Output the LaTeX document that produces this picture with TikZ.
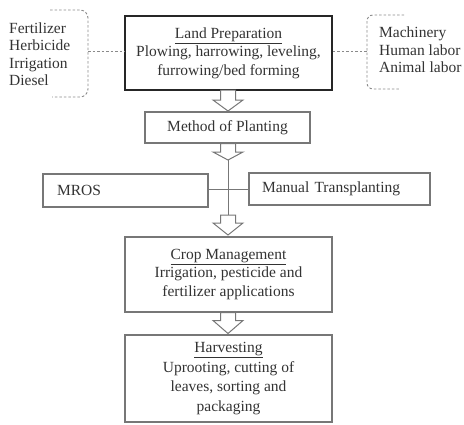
\documentclass[tikz,border=0pt]{standalone}
\usepackage{fontspec}
\setmainfont{Liberation Serif}
\usetikzlibrary{calc}
\definecolor{edge}{HTML}{777777}
\definecolor{ink}{HTML}{333333}
\definecolor{dash}{HTML}{8A8A8A}
\tikzset{
  box/.style={draw=edge, line width=1.1pt, inner sep=0pt, align=center, text=ink, font=\fontsize{15.5}{18.5}\selectfont},
  mainbox/.style={box, draw=black!85, line width=1.6pt},
  sidetext/.style={align=left, text=ink, inner sep=0pt, font=\fontsize{15.5}{17.5}\selectfont},
  blockarr/.style={draw=edge, line width=1pt, fill=white, line join=miter},
  dashline/.style={draw=dash, line width=0.9pt, dash pattern=on 2.5pt off 2pt},
  link/.style={draw=edge, line width=1pt}
}
\newcommand{\barrow}[3]{% top coordinate, shaft length, tip coordinate
  \draw[blockarr] ($(#1)+(-7.5,0)$) -- ++(0,#2) -- ++(-7.5,0) -- (#3) -- ($(#1)+(15,#2)$) -- ++(-7.5,0) -- ($(#1)+(7.5,0)$) -- cycle;}
\begin{document}
\begin{tikzpicture}[x=1pt,y=-1pt]
\useasboundingbox (0,0) rectangle (464,424);
% main boxes
\node[mainbox, minimum width=207pt, minimum height=74pt] (lp) at (228.5,53)
  {\underline{Land Preparation}\\Plowing, harrowing, leveling,\\furrowing/bed forming};
\node[box, minimum width=165pt, minimum height=31pt] (mp) at (227.5,127.5) {Method of Planting};
\node[box, minimum width=165pt, minimum height=33pt, align=left, text width=137pt] (mr) at (125.5,190.5) {MROS};
\node[box, minimum width=181pt, minimum height=32pt, align=left, text width=155pt] (mt) at (339.5,189) {Manual Transplanting};
\node[box, minimum width=207pt, minimum height=75pt] (cm) at (228.5,274.5)
  {\underline{Crop Management}\\Irrigation, pesticide and\\fertilizer applications};
\node[box, minimum width=207pt, minimum height=87pt, font=\fontsize{15.5}{19.5}\selectfont] (hv) at (228.5,378.5)
  {\underline{Harvesting}\\Uprooting, cutting of\\leaves, sorting and\\packaging\rule[-1.5pt]{0pt}{0pt}};
% side lists
\node[sidetext, anchor=west] (inp) at (9,54) {Fertilizer\\Herbicide\\Irrigation\\Diesel};
\node[sidetext, anchor=west] (lab) at (379,50) {Machinery\\Human labor\\Animal labor};
% dashed brackets
\draw[dashline] (50,10) -- (80,10) to[out=0,in=90] (88,18) -- (88,89) to[out=-90,in=0] (80,97) -- (52,97);
\coordinate (lbk) at (88,51);
\draw[dashline] (lbk) -- (lp.west |- lbk);
\draw[dashline] (404,15) -- (373,15) to[out=180,in=90] (367,21) -- (367,83) to[out=-90,in=180] (373,89) -- (399,89);
\coordinate (rbk) at (367,51);
\draw[dashline] (lp.east |- rbk) -- (rbk);
% block arrows
\coordinate (a1t) at (228,90);
\coordinate (a1p) at (228,111);
\barrow{a1t}{10}{a1p}
\coordinate (a2t) at (228,143.5);
\coordinate (a2p) at (228,160);
\barrow{a2t}{8.5}{a2p}
\coordinate (a3t) at (228,215);
\coordinate (a3p) at (228,235);
\coordinate (jn) at (228,189);
\draw[link] (a2p) -- (a3t);
\draw[link] (mr.east |- jn) -- (mt.west |- jn);
\barrow{a3t}{8}{a3p}
\coordinate (a4t) at (228,312.5);
\coordinate (a4p) at (228,333.5);
\barrow{a4t}{8}{a4p}
\end{tikzpicture}
\end{document}
